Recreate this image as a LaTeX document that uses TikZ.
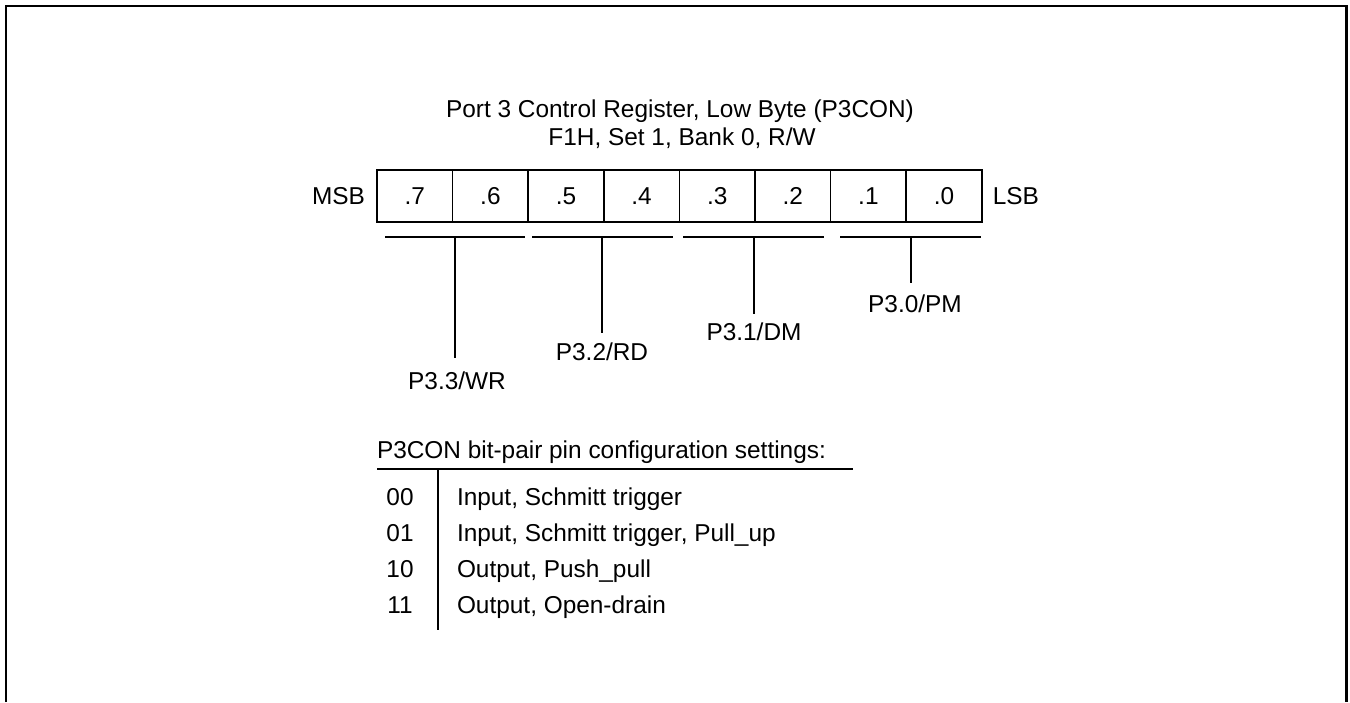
\documentclass[tikz,border=0pt]{standalone}
\usepackage{fontspec}
\setmainfont{Liberation Sans}
\usetikzlibrary{positioning}

\begin{document}
\begin{tikzpicture}[
        x=0.5pt, y=-0.5pt,
        line width=0.75pt,
        every node/.style={font=\fontsize{12.2}{14.5}\selectfont, inner sep=0pt, outer sep=0pt,
            text height=8.7pt, text depth=0pt},
        bit/.style={draw, minimum width=37.8pt, minimum height=26pt}
    ]

        \useasboundingbox (0,0) rectangle (1350,702);

        % Frame
        \draw[line width=1.2pt] (6,702) -- (6,6) -- (1346.5,6) -- (1346.5,702);

        % Title
        \node (title) at (680,108.5) {Port 3 Control Register, Low Byte (P3CON)};
        \node (addr) at (682,136.5) {F1H, Set 1, Bank 0, R/W};

        % Register
        \node[bit] (b7) at (414.8,196) {.7};
        \node[bit, right=0pt of b7] (b6) {.6};
        \node[bit, right=0pt of b6] (b5) {.5};
        \node[bit, right=0pt of b5] (b4) {.4};
        \node[bit, right=0pt of b4] (b3) {.3};
        \node[bit, right=0pt of b3] (b2) {.2};
        \node[bit, right=0pt of b2] (b1) {.1};
        \node[bit, right=0pt of b1] (b0) {.0};

        \node[left=6pt of b7] (msb) {MSB};
        \node[right=5.5pt of b0] (lsb) {LSB};

        % Bit pairs
        \draw (385,237) -- (525,237);
        \draw (532,237) -- (673,237);
        \draw (683,237) -- (824,237);
        \draw (840,237) -- (981,237);

        \coordinate (wr-top) at (455,237);
        \coordinate (wr-end) at (455,358);
        \coordinate (rd-top) at (602,237);
        \coordinate (rd-end) at (602,333);
        \coordinate (dm-top) at (754,237);
        \coordinate (dm-end) at (754,314);
        \coordinate (pm-top) at (911,237);
        \coordinate (pm-end) at (911,283);

        \draw (wr-top) -- (wr-end);
        \draw (rd-top) -- (rd-end);
        \draw (dm-top) -- (dm-end);
        \draw (pm-top) -- (pm-end);

        \node[below=7pt of wr-end, xshift=1pt] (wr) {P3.3/WR};
        \node[below=5pt of rd-end] (rd) {P3.2/RD};
        \node[below=4.5pt of dm-end] (dm) {P3.1/DM};
        \node[below=6pt of pm-end, xshift=2pt] (pm) {P3.0/PM};

        % Settings table
        \node[anchor=west] (head) at (377,450) {P3CON bit-pair pin configuration settings:};

        \coordinate (rule-l) at (377,469);
        \coordinate (rule-r) at (853,469);
        \coordinate (sep-t) at (438,469);
        \coordinate (sep-b) at (438,630);
        \draw (rule-l) -- (rule-r);
        \draw (sep-t) -- (sep-b);

        \node (c00) at (400,497) {00};
        \node (c01) at (400,533) {01};
        \node (c10) at (400,569) {10};
        \node (c11) at (400,605) {11};

        \node[anchor=west] (m00) at (457,497) {Input, Schmitt trigger};
        \node[anchor=west] (m01) at (457,533) {Input, Schmitt trigger, Pull\_up};
        \node[anchor=west] (m10) at (457,569) {Output, Push\_pull};
        \node[anchor=west] (m11) at (457,605) {Output, Open-drain};

    \end{tikzpicture}
\end{document}
